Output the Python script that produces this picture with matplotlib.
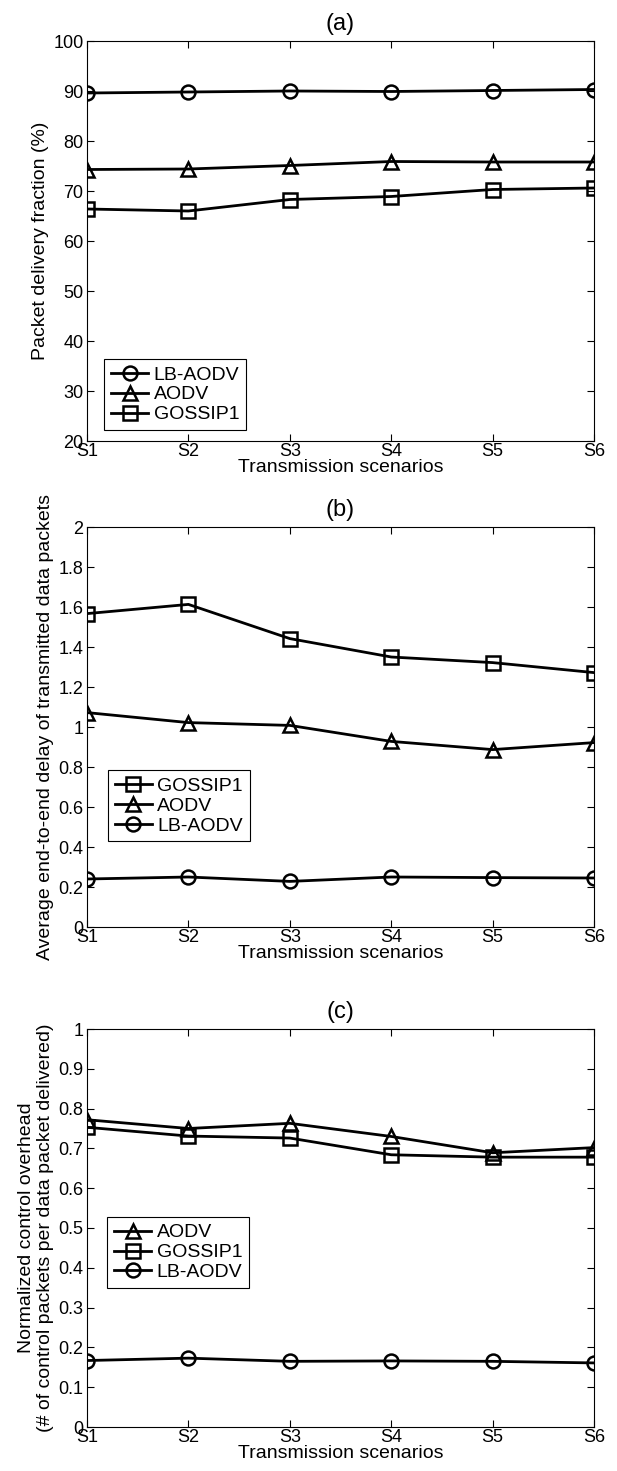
import matplotlib
matplotlib.use('Agg')
import matplotlib.pyplot as plt
from matplotlib.ticker import FormatStrFormatter

plt.rcParams['font.family'] = ['Liberation Sans', 'DejaVu Sans']

scenarios = ['S1', 'S2', 'S3', 'S4', 'S5', 'S6']

# (a) packet delivery fraction (%)
pdf_lb = [89.6, 89.8, 90.0, 89.9, 90.1, 90.3]
pdf_aodv = [74.3, 74.4, 75.1, 75.9, 75.8, 75.8]
pdf_gossip = [66.4, 66.0, 68.3, 68.9, 70.3, 70.6]

# (b) average end-to-end delay
delay_gossip = [1.567, 1.613, 1.442, 1.350, 1.322, 1.272]
delay_aodv = [1.072, 1.022, 1.008, 0.928, 0.887, 0.922]
delay_lb = [0.240, 0.250, 0.228, 0.250, 0.247, 0.245]

# (c) normalized control overhead
ovh_aodv = [0.772, 0.750, 0.763, 0.730, 0.689, 0.702]
ovh_gossip = [0.753, 0.731, 0.726, 0.684, 0.678, 0.678]
ovh_lb = [0.167, 0.173, 0.165, 0.166, 0.165, 0.161]

x = list(range(len(scenarios)))
fig = plt.figure(figsize=(6.17, 14.71), dpi=100)

W, H = 617, 1471
left = 87 / W
width = 507 / W
ax_h = 400 / H

style = dict(color='black', lw=2.0, markersize=10, fillstyle='none', mew=1.8)


def setup(ax, ylim, yticks, fmt, ylabel, title):
    ax.set_xlim(0, 5)
    ax.set_ylim(*ylim)
    ax.set_xticks(x)
    ax.set_xticklabels(scenarios)
    ax.set_yticks(yticks)
    ax.yaxis.set_major_formatter(FormatStrFormatter(fmt))
    ax.tick_params(direction='in', length=5, width=0.8, top=True, right=True,
                   labelsize=13, pad=2.5)
    ax.tick_params(axis='x', pad=1.5)
    for s in ax.spines.values():
        s.set_linewidth(0.8)
    ax.set_xlabel('Transmission scenarios', fontsize=14, labelpad=-1)
    ax.set_ylabel(ylabel, fontsize=14, labelpad=3)
    ax.set_title(title, fontsize=17, pad=8)


def legend(ax, anchor):
    lg = ax.legend(loc='lower left', bbox_to_anchor=anchor, borderaxespad=0,
                   fontsize=14, handlelength=1.9, handletextpad=0.3,
                   labelspacing=0.12, borderpad=0.35, fancybox=False,
                   framealpha=1, edgecolor='black')
    lg.get_frame().set_linewidth(0.8)


# (a)
ax1 = fig.add_axes([left, 1 - 441 / H, width, ax_h])
ax1.plot(x, pdf_lb, marker='o', label='LB-AODV', **style)
ax1.plot(x, pdf_aodv, marker='^', label='AODV', **style)
ax1.plot(x, pdf_gossip, marker='s', label='GOSSIP1', **style)
setup(ax1, (20, 100), range(20, 101, 10), '%g', 'Packet delivery fraction (%)', '(a)')
legend(ax1, (0.034, 0.027))

# (b)
ax2 = fig.add_axes([left, 1 - 927 / H, width, ax_h])
ax2.plot(x, delay_gossip, marker='s', label='GOSSIP1', **style)
ax2.plot(x, delay_aodv, marker='^', label='AODV', **style)
ax2.plot(x, delay_lb, marker='o', label='LB-AODV', **style)
setup(ax2, (0, 2), [i * 0.2 for i in range(11)], '%g',
      'Average end-to-end delay of transmitted data packets', '(b)')
legend(ax2, (0.041, 0.214))

# (c)
ax3 = fig.add_axes([left, 1 - 1427 / H, width, 398 / H])
ax3.plot(x, ovh_aodv, marker='^', label='AODV', **style)
ax3.plot(x, ovh_gossip, marker='s', label='GOSSIP1', **style)
ax3.plot(x, ovh_lb, marker='o', label='LB-AODV', **style)
setup(ax3, (0, 1), [i * 0.1 for i in range(11)], '%g',
      'Normalized control overhead\n(# of control packets per data packet delivered)', '(c)')
legend(ax3, (0.040, 0.349))

fig.savefig('out.png', dpi=100)
